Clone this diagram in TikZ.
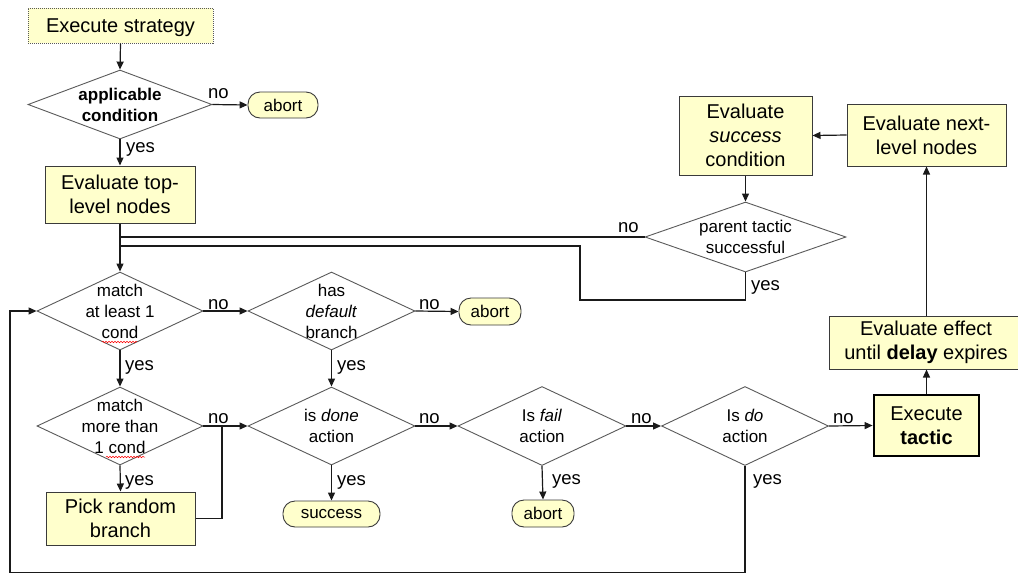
\documentclass[tikz,border=0pt]{standalone}
\usepackage{fontspec}
\setmainfont{Liberation Sans}
\usetikzlibrary{shapes.geometric,arrows.meta,decorations.pathmorphing}
\definecolor{boxfill}{HTML}{FFFFCC}
\definecolor{boxline}{HTML}{3A3A3A}
\definecolor{dialine}{HTML}{5A5A5A}
\definecolor{conn}{HTML}{1A1A1A}
\begin{document}
\begin{tikzpicture}[x=1pt,y=-1pt,
  box/.style={rectangle, draw=boxline, fill=boxfill, line width=1pt, align=center, inner sep=0pt, font=\fontsize{20}{24}\selectfont},
  oval/.style={rectangle, rounded corners=12pt, draw=boxline, fill=boxfill, line width=0.9pt, inner sep=0pt, font=\fontsize{17}{20}\selectfont},
  dia/.style={diamond, draw=dialine, line width=0.9pt, inner sep=0pt},
  dtext/.style={align=center, inner sep=0pt, font=\fontsize{17}{21}\selectfont},
  lbl/.style={inner sep=0pt, anchor=base west, font=\fontsize{18.5}{22}\selectfont},
  arr/.style={draw=conn, line width=1.2pt, -{Triangle[length=8pt,width=7pt]}},
  ln/.style={draw=conn, line width=1.2pt},
  squig/.style={draw=red, line width=0.5pt, decorate, decoration={snake, amplitude=0.8pt, segment length=3pt}}
]
\clip (0,0) rectangle (1018,574);
\fill[white] (0,0) rectangle (1018,574);

% boxes
\node[box, draw=gray!70!black, dash pattern=on 1pt off 1pt, minimum width=185, minimum height=35, text depth=0pt] (es) at (120.5,25.5) {Execute strategy};
\node[box, minimum width=150, minimum height=57] (tl) at (120,194.5) {Evaluate top-\\level nodes};
\node[box, minimum width=133, minimum height=79] (esc) at (745.5,135.5) {Evaluate\\\textit{success}\\condition};
\node[box, minimum width=159, minimum height=62] (enl) at (926.5,135) {Evaluate next-\\level nodes};
\node[box, minimum width=194, minimum height=53] (ee) at (926,342.5) {Evaluate effect\\until \textbf{delay} expires};
\node[box, line width=2.8pt, draw=black, minimum width=105, minimum height=61] (tac) at (926.5,425.5) {Execute\\\textbf{tactic}};
\node[box, minimum width=149, minimum height=53] (pr) at (120.5,518.5) {Pick random\\branch};

% ovals
\node[oval, minimum width=70, minimum height=26] (ab1) at (283,105) {abort};
\node[oval, minimum width=62, minimum height=27] (ab2) at (490,311.5) {abort};
\node[oval, minimum width=97, minimum height=26] (suc) at (331.5,514) {success};
\node[oval, minimum width=62, minimum height=27] (ab3) at (543,513.5) {abort};

% diamonds
\node[dia, minimum width=184, minimum height=69] (ac) at (120,104.5) {};
\node[dtext, font=\fontsize{17}{21}\selectfont\bfseries] (act) at (ac) {applicable\\condition};
\node[dia, minimum width=166, minimum height=78] (m1) at (120,311) {};
\node[dtext] (m1t) at (m1) {match\\at least 1\\cond};
\node[dia, minimum width=166, minimum height=78] (m2) at (120,426) {};
\node[dtext] (m2t) at (m2) {match\\more than\\1 cond};
\node[dia, minimum width=167, minimum height=78] (hd) at (331.5,311) {};
\node[dtext] (hdt) at (hd) {has\\\textit{default}\\branch};
\node[dia, minimum width=167, minimum height=78] (dn) at (331.5,426) {};
\node[dtext] (dnt) at (dn) {is \textit{done}\\action};
\node[dia, minimum width=168, minimum height=79] (fl) at (542,426) {};
\node[dtext] (flt) at (fl) {Is \textit{fail}\\action};
\node[dia, minimum width=167, minimum height=79] (do) at (745,426) {};
\node[dtext] (dot) at (do) {Is \textit{do}\\action};
\node[dia, minimum width=201, minimum height=70] (pt) at (745.5,237) {};
\node[dtext] (ptt) at (pt) {parent tactic\\successful};

% spell-check squiggles
\draw[squig] (102,342) -- (137,342);
\draw[squig] (106,457) -- (145,457);

% connectors
\draw[arr] (es.south) -- (ac.north);
\draw[arr] (ac.east) -- (ab1.west);
\draw[arr] (ac.south) -- (tl.north);
\draw[arr] (tl.south) -- (m1.north);
\draw[ln] (pt.west) -- (pt.west -| tl.south);
\coordinate (py) at (580,300);
\coordinate (pl) at (120,246);
\draw[ln] (pt.south) |- (py) |- (pl);
\draw[arr] (enl.west) -- (esc.east);
\draw[arr] (esc.south) -- (pt.north);
\draw[arr] (enl.south |- ee.north) -- (enl.south);
\draw[arr] (tac.north) -- (tac.north |- ee.south);
\draw[arr] (m1.east) -- (hd.west);
\draw[arr] (hd.east) -- (ab2.west);
\draw[arr] (m1.south) -- (m2.north);
\draw[arr] (hd.south) -- (dn.north);
\draw[arr] (m2.east) -- (dn.west);
\draw[arr] (m2.south) -- (pr.north);
\coordinate (jn) at (222,426);
\draw[ln] (pr.east) -| (jn);
\draw[arr] (dn.east) -- (fl.west);
\draw[arr] (dn.south) -- (suc.north);
\draw[arr] (fl.east) -- (do.west);
\draw[arr] (fl.south) -- (ab3.north);
\draw[arr] (do.east) -- (tac.west);
\coordinate (lb) at (10,572.5);
\draw[arr] (do.south) |- (lb) |- (m1.west);

% labels
\node[lbl] (l1) at (208,98) {no};
\node[lbl] (l2) at (126,152) {yes};
\node[lbl] (l3) at (618,232) {no};
\node[lbl] (l4) at (751,290) {yes};
\node[lbl] (l5) at (208,309) {no};
\node[lbl] (l6) at (125,370) {yes};
\node[lbl] (l7) at (419,309) {no};
\node[lbl] (l8) at (337,370) {yes};
\node[lbl] (l9) at (208,423) {no};
\node[lbl] (l10) at (125,485) {yes};
\node[lbl] (l11) at (419,423) {no};
\node[lbl] (l12) at (337,485) {yes};
\node[lbl] (l13) at (631,423) {no};
\node[lbl] (l14) at (552,484) {yes};
\node[lbl] (l15) at (833,423) {no};
\node[lbl] (l16) at (753,484) {yes};
\end{tikzpicture}
\end{document}
